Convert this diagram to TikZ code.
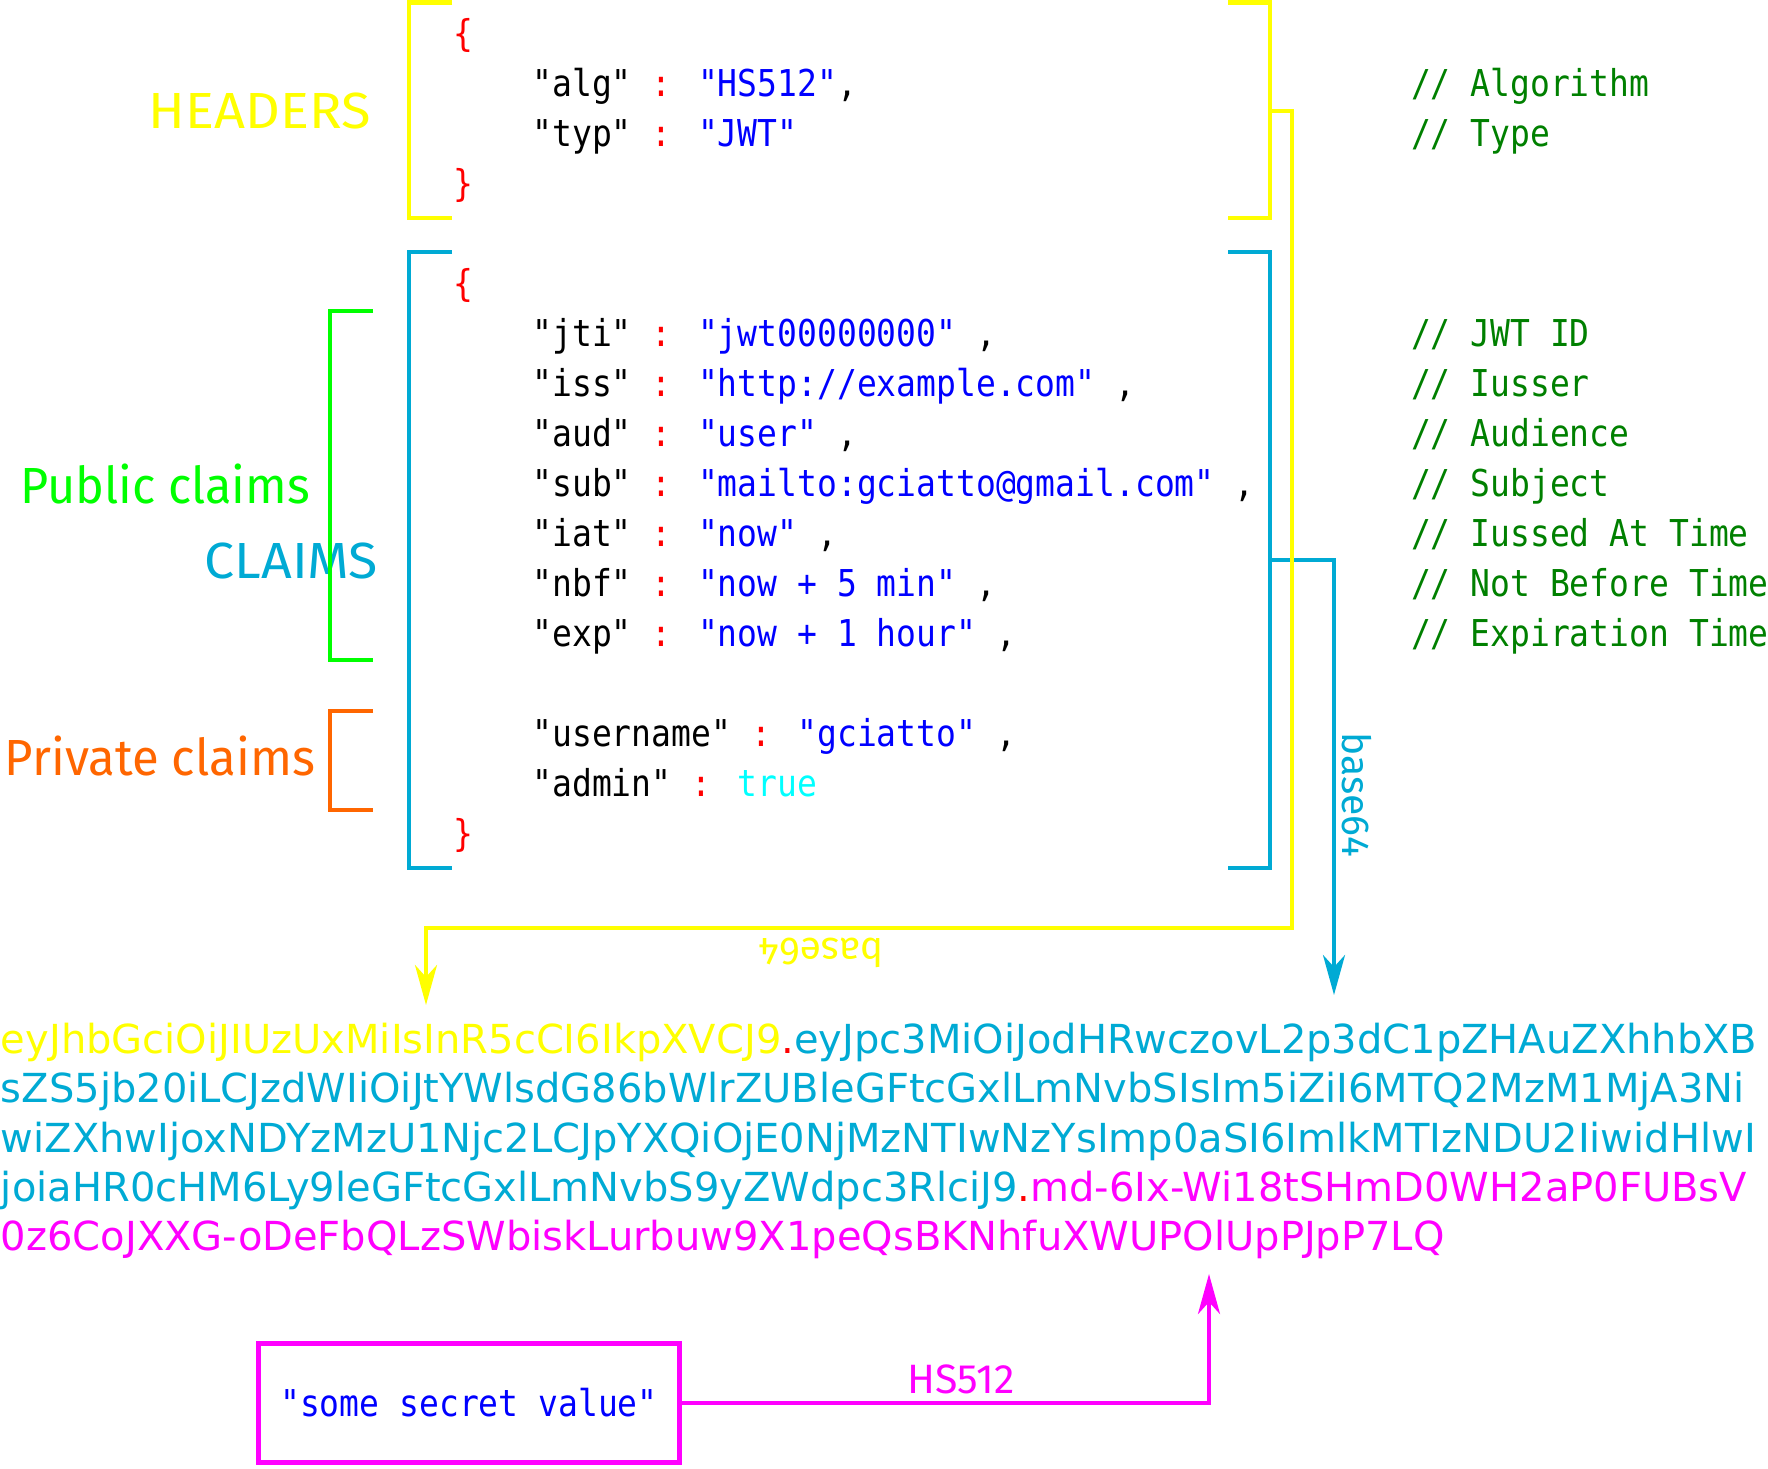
\documentclass[tikz,border=0pt]{standalone}
\usepackage{graphicx}
\usepackage{fontspec}
\setmainfont{Fira Sans}
\newfontfamily\codefont{DejaVu Sans Mono}[Ligatures=TeXOff,FakeStretch=0.892]
\newfontfamily\tokfont{DejaVu Sans}[Ligatures=TeXOff]
\usetikzlibrary{arrows.meta}

\definecolor{hdrY}{HTML}{FFFF00}
\definecolor{clmB}{HTML}{00AAD4}
\definecolor{pubG}{HTML}{00FF00}
\definecolor{prvO}{HTML}{FF6600}
\definecolor{sigM}{HTML}{FF00FF}
\definecolor{jred}{HTML}{FF0000}
\definecolor{jblue}{HTML}{0000FF}
\definecolor{jcyan}{HTML}{00FFFF}
\definecolor{cmtG}{HTML}{008000}

% JSON token helpers
\newcommand\jc{\textcolor{jred}{:}}
\newcommand\js[1]{\textcolor{jblue}{#1}}
% horizontally scaled label text
\newcommand\wlabel[2]{\scalebox{#1}[1]{#2}}

\tikzset{
  every node/.style={inner sep=0pt, outer sep=0pt},
  code/.style={font=\codefont\fontsize{18.5}{22}\selectfont, anchor=base west},
  cmt/.style={code, text=cmtG},
  brace/.style={code, text=jred},
  tok/.style={font=\tokfont\fontsize{20}{24}\selectfont, anchor=base west},
  biglabel/.style={font=\fontsize{25.4}{30}\selectfont, anchor=base east},
  smalllabel/.style={font=\fontsize{19.5}{24}\selectfont},
  bigbracket/.style={line width=2.4pt, line join=miter},
  smallbracket/.style={line width=2pt, line join=miter},
  tip/.style={-{Stealth[length=20pt, width=11pt, inset=6pt]}},
  link/.style={line width=2pt, line join=miter, tip},
}

\begin{document}
\begin{tikzpicture}[x=0.5pt, y=-0.5pt]
\path[use as bounding box, clip] (0,0) rectangle (1768,1468);

% ---- header block brackets
\draw[bigbracket, hdrY] (452,2.5) -- (409,2.5) -- (409,218) -- (452,218);
\draw[bigbracket, hdrY] (1228,2.5) -- (1270,2.5) -- (1270,218) -- (1228,218);

% ---- claims block brackets
\draw[bigbracket, clmB] (452,252) -- (409,252) -- (409,868) -- (452,868);
\draw[bigbracket, clmB] (1228,252) -- (1270,252) -- (1270,868) -- (1228,868);

% ---- header JSON
\node[brace] (hOpen) at (453,46.7) {\{};
\node[code] (hAlg) at (532.5,96.7) {"alg" \jc{} \js{"HS512"},};
\node[code] (hTyp) at (532.5,146.7) {"typ" \jc{} \js{"JWT"}};
\node[brace] (hClose) at (453,196.7) {\}};

% ---- claims JSON
\node[brace] (cOpen) at (453,296.7) {\{};
\node[code] (cJti) at (532.5,346.7) {"jti" \jc{} \js{"jwt00000000"} ,};
\node[code] (cIss) at (532.5,396.7) {"iss" \jc{} \js{"http://example.com"} ,};
\node[code] (cAud) at (532.5,446.7) {"aud" \jc{} \js{"user"} ,};
\node[code] (cSub) at (532.5,496.7) {"sub" \jc{} \js{"mailto:gciatto@gmail.com"} ,};
\node[code] (cIat) at (532.5,546.7) {"iat" \jc{} \js{"now"} ,};
\node[code] (cNbf) at (532.5,596.7) {"nbf" \jc{} \js{"now + 5 min"} ,};
\node[code] (cExp) at (532.5,646.7) {"exp" \jc{} \js{"now + 1 hour"} ,};
\node[code] (cUsr) at (532.5,746.7) {"username" \jc{} \js{"gciatto"} ,};
\node[code] (cAdm) at (532.5,796.7) {"admin" \jc{} \textcolor{jcyan}{true}};
\node[brace] (cClose) at (453,846.7) {\}};

% ---- comments
\node[cmt] (mAlg) at (1411,96.7) {// Algorithm};
\node[cmt] (mTyp) at (1411,146.7) {// Type};
\node[cmt] (mJti) at (1411,346.7) {// JWT ID};
\node[cmt] (mIss) at (1411,396.7) {// Iusser};
\node[cmt] (mAud) at (1411,446.7) {// Audience};
\node[cmt] (mSub) at (1411,496.7) {// Subject};
\node[cmt] (mIat) at (1411,546.7) {// Iussed At Time};
\node[cmt] (mNbf) at (1411,596.7) {// Not Before Time};
\node[cmt] (mExp) at (1411,646.7) {// Expiration Time};

% ---- section labels
\node[biglabel, text=hdrY] (lblHdr) at (371,128) {\wlabel{1.064}{HEADERS}};
\node[biglabel, text=clmB] (lblClm) at (378,578) {\wlabel{1.055}{CLAIMS}};
\node[biglabel, text=pubG] (lblPub) at (310,503) {\wlabel{0.957}{Public claims}};
\node[biglabel, text=prvO] (lblPrv) at (315,775) {\wlabel{0.966}{Private claims}};

% ---- public / private claim brackets
\draw[smallbracket, pubG] (373,311) -- (330,311) -- (330,660) -- (373,660);
\draw[smallbracket, prvO] (373,711) -- (330,711) -- (330,810) -- (373,810);

% ---- encoded token
\node[tok] (tok1) at (1,1053) {\textcolor{hdrY}{eyJhbGciOiJIUzUxMiIsInR5cCI6IkpXVCJ9}\textcolor{jred}{.}\textcolor{clmB}{eyJpc3MiOiJodHRwczovL2p3dC1pZHAuZXhhbXB}};
\node[tok, text=clmB] (tok2) at (1,1102) {sZS5jb20iLCJzdWIiOiJtYWlsdG86bWlrZUBleGFtcGxlLmNvbSIsIm5iZiI6MTQ2MzM1MjA3Ni};
\node[tok, text=clmB] (tok3) at (1,1152) {wiZXhwIjoxNDYzMzU1Njc2LCJpYXQiOjE0NjMzNTIwNzYsImp0aSI6ImlkMTIzNDU2IiwidHlwI};
\node[tok] (tok4) at (1,1201) {\textcolor{clmB}{joiaHR0cHM6Ly9leGFtcGxlLmNvbS9yZWdpc3RlciJ9}\textcolor{jred}{.}\textcolor{sigM}{md-6Ix-Wi18tSHmD0WH2aP0FUBsV}};
\node[tok, text=sigM] (tok5) at (1,1250) {0z6CoJXXG-oDeFbQLzSWbiskLurbuw9X1peQsBKNhfuXWUPOlUpPJpP7LQ};

% ---- secret
\node[draw=sigM, line width=2.3pt, minimum width=210.5pt, minimum height=59.5pt,
      font=\codefont\fontsize{18.5}{22}\selectfont, text=jblue] (secret) at (469,1403) {"some secret value"};

% ---- connectors
\coordinate (clmOut) at (1270,560);
\coordinate (clmTip) at (1334,995);
\draw[link, clmB] (clmOut) -| (clmTip);
\node[smalllabel, text=clmB, rotate=-90] (lblB64c) at (1357,795) {base64};

\coordinate (hdrOut) at (1270,110.5);
\coordinate (hdrBend) at (1292,928);
\coordinate (hdrTip) at (426,1005);
\draw[link, hdrY] (hdrOut) -| (hdrBend) -| (hdrTip);
\node[smalllabel, text=hdrY, rotate=180] (lblB64h) at (821,953) {base64};

\coordinate (sigTip) at (1209,1274);
\draw[link, sigM, line width=2.2pt] (secret.east) -| (sigTip);
\node[smalllabel, text=sigM, anchor=base, font=\fontsize{20.5}{24}\selectfont] (lblSig) at (961,1393) {HS512};

\end{tikzpicture}
\end{document}
